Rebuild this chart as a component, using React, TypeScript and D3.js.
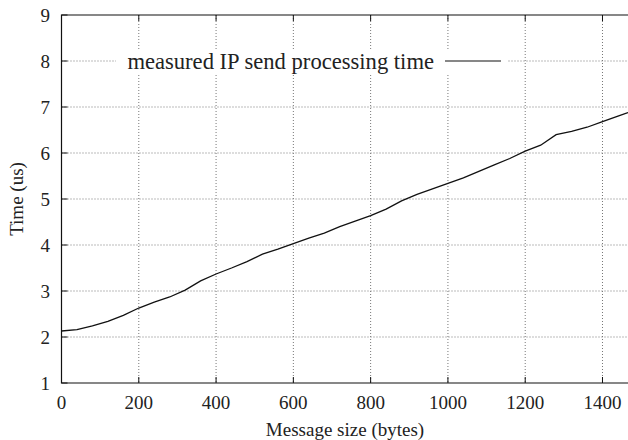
import React from 'react';
import * as d3 from 'd3';

// message size (bytes) and measured send time (us)
const sizes = [0, 40, 80, 120, 160, 200, 240, 280, 320, 360, 400, 440, 480, 520, 560, 600, 640, 680, 720, 760,
  800, 840, 880, 920, 960, 1000, 1040, 1080, 1120, 1160, 1200, 1240, 1280, 1320, 1360, 1400, 1440, 1466];
const times = [2.13, 2.16, 2.24, 2.34, 2.47, 2.63, 2.76, 2.87, 3.02, 3.22, 3.37, 3.5, 3.64, 3.8, 3.91, 4.03, 4.15, 4.26, 4.4, 4.52,
  4.64, 4.78, 4.96, 5.1, 5.22, 5.34, 5.46, 5.6, 5.74, 5.88, 6.04, 6.17, 6.4, 6.47, 6.56, 6.68, 6.8, 6.88];
const xTicks = [0, 200, 400, 600, 800, 1000, 1200, 1400];
const yTicks = [1, 2, 3, 4, 5, 6, 7, 8, 9];
const legendLabel = 'measured IP send processing time';

const W = 628, H = 440;
const left = 61.5, right = 628, top = 15, bottom = 383;
const font = '"Liberation Serif", "Times New Roman", serif';

export default function App() {
  const x = d3.scaleLinear().domain([0, 1466]).range([left, right]);
  const y = d3.scaleLinear().domain([1, 9]).range([bottom, top]);
  const line = d3.line<number>().x((_, i) => x(sizes[i])).y((d) => y(d));

  return (
    <svg width={W} height={H} style={{ position: 'absolute', left: 0, top: 0, background: '#fff' }}>
      {/* grid */}
      {xTicks.filter((t) => t > 0).map((t) => (
        <line key={'gx' + t} x1={x(t)} x2={x(t)} y1={top} y2={bottom} stroke="#777" strokeDasharray="1,2" />
      ))}
      {yTicks.filter((t) => t > 1 && t < 9).map((t) => (
        <line key={'gy' + t} x1={left} x2={right} y1={y(t)} y2={y(t)} stroke="#777" strokeDasharray="1,2" />
      ))}
      {/* key box blanks the grid */}
      <rect x={116} y={49} width={392} height={25} fill="#fff" />
      <text x={434} y={68.5} textAnchor="end" fontFamily={font} fontSize={22.6} fill="#222">{legendLabel}</text>
      <line x1={445} x2={501} y1={y(8)} y2={y(8)} stroke="#111" strokeWidth={1.2} />

      {/* frame and ticks */}
      <path d={`M${right + 5},${top}H${left}V${bottom}H${right + 5}`} fill="none" stroke="#111" strokeWidth={1.2} />
      {xTicks.map((t) => (
        <g key={'tx' + t}>
          <line x1={x(t)} x2={x(t)} y1={bottom} y2={bottom - 6} stroke="#111" />
          <line x1={x(t)} x2={x(t)} y1={top} y2={top + 6} stroke="#111" />
          <text x={x(t)} y={409} textAnchor="middle" fontFamily={font} fontSize={19} fill="#222">{t}</text>
        </g>
      ))}
      {yTicks.map((t) => (
        <g key={'ty' + t}>
          <line x1={left} x2={left + 6} y1={y(t)} y2={y(t)} stroke="#111" />
          <text x={50} y={y(t)} dy="0.35em" textAnchor="end" fontFamily={font} fontSize={19} fill="#222">{t}</text>
        </g>
      ))}

      <path d={line(times) || ''} fill="none" stroke="#111" strokeWidth={1.3} />

      <text x={345} y={436} textAnchor="middle" fontFamily={font} fontSize={19} fill="#222">Message size (bytes)</text>
      <text transform={`translate(23,${(top + bottom) / 2}) rotate(-90)`} textAnchor="middle" fontFamily={font} fontSize={19} fill="#222">Time (us)</text>
    </svg>
  );
}
